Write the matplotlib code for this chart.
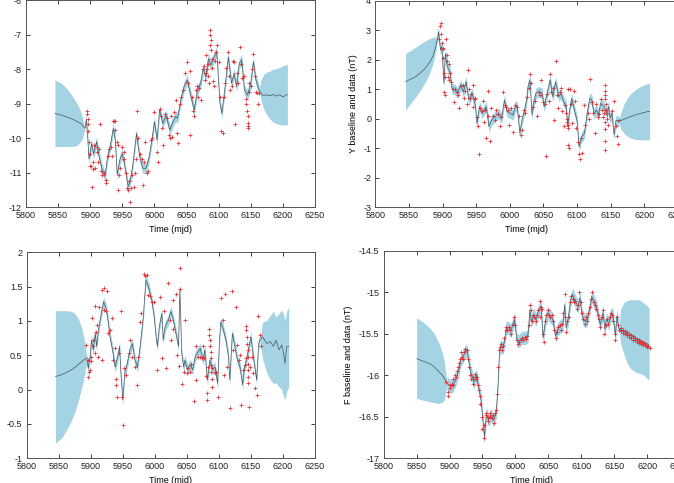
import matplotlib
matplotlib.use("Agg")
import matplotlib.pyplot as plt
from matplotlib.ticker import MultipleLocator, FormatStrFormatter

plt.rcParams['font.family'] = ['Liberation Sans', 'DejaVu Sans']
plt.rcParams['font.size'] = 6.5
plt.rcParams['axes.unicode_minus'] = False

# ---------------------------------------------------------------- X component
x_pre_t = [5845, 5855, 5863, 5870, 5876, 5881, 5885, 5888, 5891]
x_pre_m = [-9.28, -9.33, -9.38, -9.43, -9.48, -9.53, -9.57, -9.62, -9.7]
x_pre_lo = [-10.24, -10.24, -10.24, -10.24, -10.23, -10.18, -10.1, -10.0, -9.78]
x_pre_hi = [-8.31, -8.4, -8.55, -8.72, -8.89, -9.05, -9.22, -9.4, -9.68]

x_fit_t = [5892, 5894, 5896, 5898, 5902, 5905, 5910, 5913, 5918, 5923,
           5927, 5931, 5936, 5939, 5942, 5946, 5950, 5954, 5959, 5962,
           5966, 5972, 5977, 5982, 5987, 5992, 5996, 6000, 6004, 6008,
           6013, 6018, 6024, 6029, 6033, 6036, 6041, 6046, 6051, 6057,
           6062, 6067, 6072, 6076, 6080, 6084, 6088, 6093, 6097, 6102,
           6105, 6110, 6115, 6120, 6124, 6128, 6132, 6136, 6140, 6145,
           6150, 6154, 6158, 6163]
x_fit_m = [-9.7, -9.45, -9.95, -10.6, -10.15, -10.45, -10.1, -10.45, -10.87, -11.11,
           -10.53, -10.24, -9.71, -10.05, -11.06, -10.63, -10.44, -10.82, -11.4, -11.26,
           -10.82, -9.86, -10.53, -10.87, -10.87, -10.53, -10.05, -9.52, -10.05, -9.18,
           -9.57, -9.33, -9.76, -9.52, -9.37, -9.42, -8.89, -8.51, -8.31, -8.8,
           -9.18, -8.6, -8.41, -7.97, -8.22, -7.69, -7.88, -7.64, -7.49, -8.99,
           -9.28, -8.51, -7.64, -8.41, -8.12, -8.51, -7.83, -7.73, -8.6, -8.75,
           -8.41, -7.78, -8.31, -8.6]
x_sig = 0.15

x_post_t = [6163, 6166, 6170, 6175, 6180, 6185, 6190, 6195, 6200, 6204, 6207]
x_post_m = [-8.6, -8.72, -8.76, -8.74, -8.77, -8.73, -8.78, -8.74, -8.8, -8.76, -8.73]
x_post_lo = [-8.6, -8.9, -9.15, -9.32, -9.45, -9.53, -9.58, -9.6, -9.62, -9.6, -9.62]
x_post_hi = [-8.6, -8.3, -8.15, -8.08, -8.05, -8.0, -7.98, -7.95, -7.9, -7.88, -7.85]

x_obs_t = [5895, 5895, 5896, 5897, 5896, 5898, 5899, 5900, 5901, 5903,
           5904, 5905, 5906, 5908, 5910, 5911, 5912, 5914, 5915, 5917,
           5919, 5921, 5924, 5925, 5928, 5930, 5932, 5934, 5935, 5937,
           5938, 5939, 5941, 5943, 5944, 5945, 5947, 5950, 5952, 5953,
           5955, 5957, 5959, 5960, 5962, 5963, 5965, 5968, 5969, 5971,
           5973, 5975, 5977, 5980, 5982, 5984, 5986, 5988, 5990, 5994,
           5996, 6000, 6004, 6006, 6008, 6010, 6012, 6014, 6016, 6019,
           6022, 6024, 6026, 6028, 6030, 6033, 6035, 6036, 6040, 6042,
           6045, 6048, 6050, 6052, 6055, 6056, 6058, 6060, 6062, 6064,
           6066, 6068, 6070, 6073, 6075, 6077, 6078, 6080, 6081, 6082,
           6083, 6084, 6085, 6086, 6086, 6087, 6088, 6088, 6089, 6090,
           6091, 6092, 6094, 6096, 6098, 6100, 6102, 6104, 6106, 6108,
           6110, 6112, 6114, 6116, 6118, 6120, 6122, 6124, 6126, 6128,
           6130, 6133, 6135, 6137, 6140, 6142, 6143, 6144, 6145, 6145,
           6146, 6146, 6147, 6148, 6150, 6152, 6154, 6156, 6158, 6160,
           6162, 6163]
x_obs_v = [-9.2, -9.3, -9.45, -9.6, -9.8, -10.1, -10.8, -10.45, -10.8, -11.4,
           -10.9, -10.7, -10.2, -10.85, -10.25, -10.4, -10.7, -10.3, -9.6, -10.95,
           -11.05, -11.0, -11.2, -11.3, -10.5, -10.3, -10.25, -10.5, -9.5, -9.5,
           -9.75, -9.5, -10.1, -10.2, -11.5, -11.05, -10.85, -10.25, -10.6, -10.4,
           -11.0, -11.45, -11.5, -11.25, -11.85, -11.45, -11.05, -11.4, -11.0, -10.6,
           -9.2, -10.0, -10.45, -10.6, -11.35, -10.7, -10.1, -11.0, -10.95, -10.05,
           -10.0, -9.25, -10.4, -10.7, -9.15, -9.35, -9.7, -10.2, -9.3, -9.4,
           -9.9, -10.0, -9.35, -9.95, -9.25, -8.9, -9.85, -10.15, -9.0, -8.8,
           -8.6, -8.1, -7.8, -8.4, -8.05, -9.9, -8.8, -9.2, -9.35, -8.6,
           -8.5, -8.8, -8.55, -8.9, -8.0, -7.9, -8.3, -8.1, -7.6, -8.0,
           -8.2, -7.85, -8.4, -7.3, -7.0, -6.85, -7.15, -7.45, -7.7, -7.95,
           -8.35, -8.5, -7.75, -7.5, -7.3, -7.8, -8.8, -9.8, -9.85, -8.8,
           -8.4, -7.95, -7.5, -8.2, -8.6, -8.5, -7.75, -7.8, -9.6, -8.1,
           -8.4, -7.35, -7.85, -8.25, -8.2, -8.85, -9.0, -9.2, -9.35, -9.55,
           -9.65, -9.7, -8.4, -8.65, -8.5, -8.0, -7.55, -8.2, -8.65, -8.7,
           -9.0, -8.7]

# ---------------------------------------------------------------- Y component
y_pre_t = [5845, 5852, 5860, 5867, 5874, 5880, 5885, 5889, 5892]
y_pre_m = [1.25, 1.33, 1.42, 1.55, 1.7, 1.88, 2.08, 2.35, 2.66]
y_pre_lo = [0.29, 0.5, 0.73, 0.97, 1.22, 1.5, 1.8, 2.15, 2.6]
y_pre_hi = [2.21, 2.3, 2.42, 2.53, 2.63, 2.7, 2.75, 2.77, 2.7]

y_fit_t = [5892, 5894, 5897, 5899, 5902, 5904, 5907, 5911, 5914, 5919,
           5922, 5927, 5931, 5935, 5939, 5944, 5949, 5951, 5955, 5959,
           5965, 5969, 5973, 5978, 5983, 5988, 5992, 5996, 6001, 6005,
           6008, 6011, 6015, 6018, 6022, 6025, 6027, 6030, 6033, 6035,
           6039, 6043, 6048, 6051, 6055, 6060, 6064, 6068, 6073, 6076,
           6080, 6084, 6086, 6089, 6092, 6096, 6100, 6103, 6107, 6111,
           6115, 6119, 6122, 6125, 6129, 6132, 6135, 6140, 6144, 6147,
           6149, 6152, 6155, 6158, 6162]
y_fit_m = [2.66, 2.94, 2.32, 2.44, 1.2, 2.21, 1.76, 1.59, 1.03, 0.97,
           0.86, 1.14, 0.91, 1.25, 0.63, 0.86, 0.41, -0.16, 0.41, 0.18,
           0.41, -0.27, -0.05, 0.07, 0.18, 0.01, 0.63, 0.24, 0.18, 0.12,
           0.41, 0.41, -0.5, -0.05, 0.29, 0.63, 1.08, 1.31, 0.12, 0.52,
           0.86, 0.91, 0.86, 0.41, 0.8, 1.31, 0.74, 1.25, 0.74, 0.86,
           0.58, 0.41, -0.27, 0.29, 0.69, 0.29, -0.05, -0.95, -0.61, -0.5,
           0.18, 0.69, 0.63, 0.18, 0.29, 0.12, 0.52, 0.41, 0.18, 0.41,
           0.01, 0.18, -0.55, -0.05, -0.1]
y_sig = 0.18

y_post_t = [6162, 6165, 6170, 6175, 6180, 6185, 6190, 6195, 6200, 6205, 6208]
y_post_m = [-0.1, -0.06, -0.02, 0.03, 0.07, 0.11, 0.15, 0.18, 0.21, 0.24, 0.25]
y_post_lo = [-0.1, -0.35, -0.5, -0.6, -0.66, -0.69, -0.71, -0.72, -0.72, -0.72, -0.72]
y_post_hi = [-0.1, 0.2, 0.5, 0.7, 0.85, 0.95, 1.03, 1.1, 1.15, 1.18, 1.2]

y_obs_t = [5895, 5896, 5897, 5898, 5899, 5900, 5901, 5901, 5902, 5902,
           5903, 5904, 5905, 5906, 5907, 5908, 5909, 5910, 5911, 5913,
           5916, 5917, 5919, 5921, 5923, 5925, 5928, 5930, 5932, 5934,
           5936, 5938, 5940, 5941, 5943, 5945, 5946, 5948, 5949, 5951,
           5953, 5954, 5956, 5958, 5960, 5962, 5963, 5965, 5967, 5968,
           5970, 5972, 5975, 5978, 5980, 5983, 5985, 5987, 5990, 5993,
           5995, 5997, 5999, 6002, 6005, 6008, 6010, 6013, 6016, 6018,
           6021, 6023, 6026, 6028, 6030, 6032, 6035, 6037, 6040, 6043,
           6045, 6047, 6049, 6052, 6054, 6055, 6058, 6060, 6062, 6064,
           6066, 6068, 6070, 6072, 6074, 6076, 6078, 6080, 6082, 6084,
           6085, 6085, 6086, 6086, 6087, 6087, 6088, 6089, 6091, 6093,
           6095, 6097, 6099, 6102, 6103, 6104, 6106, 6108, 6110, 6112,
           6116, 6118, 6120, 6122, 6124, 6126, 6128, 6131, 6133, 6135,
           6137, 6139, 6140, 6141, 6141, 6142, 6142, 6142, 6142, 6142,
           6142, 6143, 6143, 6144, 6145, 6146, 6152, 6155, 6158, 6160,
           6161, 6163]
y_obs_v = [2.7, 3.15, 3.25, 2.85, 2.55, 2.35, 2.4, 2.05, 1.55, 0.9,
           0.8, 1.4, 2.7, 2.15, 1.95, 1.4, 1.85, 1.3, 1.55, 1.25,
           1.0, 0.55, 1.0, 0.9, 0.8, 0.35, 1.1, 1.15, 0.7, 0.95,
           0.5, 1.65, 1.0, 0.7, 0.85, 0.4, 1.15, 0.7, 0.65, 0.05,
           -0.25, -1.2, 0.35, 0.25, 0.6, -0.1, 0.3, -0.65, 0.95, 0.1,
           -0.75, 0.35, 0.1, -0.05, 0.3, 0.15, -0.25, 0.05, 0.9, 0.45,
           0.4, 0.3, -0.2, 0.35, -0.45, 0.45, 0.4, 0.1, -0.55, -0.4,
           0.3, 0.2, 0.75, 1.05, 1.5, 1.2, 0.4, 0.6, 0.1, 0.9,
           0.8, 1.3, 0.55, 0.5, -1.25, 0.85, 0.6, 1.5, 0.9, 1.05,
           -0.05, 1.95, 0.8, 0.35, 0.9, 1.05, 0.25, -0.25, 0.45, 0.2,
           0.0, -0.1, -0.3, 1.0, -0.2, -0.9, -1.0, 1.0, 0.5, -0.15,
           0.95, 0.6, -0.3, -0.8, -1.2, -1.35, -0.65, -1.15, 0.45, -0.2,
           0.2, 0.0, 1.35, 0.55, 0.2, -0.5, 0.5, 0.05, 0.15, 0.65,
           0.3, 0.05, 0.2, -0.1, -0.35, -0.75, -1.05, 1.15, 0.95, 0.8,
           0.65, 0.5, 0.3, 0.15, 0.0, -0.2, 0.25, 0.6, -0.25, -0.6,
           -0.85, -0.05]

# ---------------------------------------------------------------- Z component
z_pre_t = [5845, 5855, 5862, 5870, 5876, 5881, 5886, 5890, 5894]
z_pre_m = [0.19, 0.22, 0.25, 0.29, 0.33, 0.37, 0.41, 0.44, 0.46]
z_pre_lo = [-0.78, -0.7, -0.59, -0.45, -0.3, -0.15, 0.04, 0.2, 0.42]
z_pre_hi = [1.15, 1.15, 1.15, 1.14, 1.1, 1.02, 0.9, 0.72, 0.46]

z_fit_t = [5894, 5896, 5899, 5901, 5904, 5907, 5909, 5912, 5916, 5920,
           5924, 5927, 5930, 5934, 5938, 5942, 5945, 5947, 5950, 5953,
           5957, 5961, 5965, 5969, 5973, 5977, 5982, 5986, 5990, 5995,
           5999, 6002, 6004, 6007, 6011, 6013, 6016, 6021, 6025, 6029,
           6033, 6037, 6039, 6042, 6045, 6047, 6051, 6055, 6059, 6063,
           6066, 6071, 6075, 6078, 6082, 6086, 6090, 6094, 6098, 6101,
           6103, 6107, 6111, 6115, 6117, 6121, 6125, 6129, 6133, 6137,
           6140, 6143, 6147, 6150, 6153, 6156, 6159, 6162, 6164]
z_fit_m = [0.46, 0.31, 0.48, 0.72, 0.58, 0.82, 0.63, 0.87, 1.09, 1.28,
           1.18, 1.01, 0.77, 0.58, 0.33, 0.48, 0.63, 0.24, -0.15, 0.24,
           0.38, 0.58, 0.67, 0.43, 0.33, 0.63, 1.06, 1.6, 1.5, 1.31,
           1.06, 0.77, 0.63, 0.92, 1.11, 0.72, 0.92, 1.01, 1.14, 1.01,
           0.82, 0.63, 1.45, 0.53, 0.33, 0.43, 0.29, 0.36, 0.29, 0.48,
           0.53, 0.6, 0.43, 0.58, 0.14, 0.43, 0.29, 0.33, 0.09, 0.72,
           0.99, 0.87, 0.72, 0.48, 0.14, 0.82, 0.63, 0.43, 0.33, 0.07,
           0.33, 0.43, 0.63, 0.77, 0.53, 0.33, 0.14, 0.67, 0.72]
z_sig = 0.075

z_post_t = [6164, 6168, 6175, 6180, 6185, 6189, 6194, 6198, 6201, 6203, 6206, 6209]
z_post_m = [0.72, 0.77, 0.67, 0.7, 0.63, 0.72, 0.58, 0.65, 0.53, 0.38, 0.63, 0.63]
z_post_lo = [0.72, 0.45, 0.24, 0.15, 0.09, 0.1, 0.04, 0.0, -0.1, -0.15, -0.02, 0.04]
z_post_hi = [0.72, 0.98, 1.01, 1.08, 1.14, 1.06, 1.11, 1.16, 1.1, 1.0, 1.15, 1.21]

z_obs_t = [5893, 5895, 5896, 5898, 5899, 5900, 5901, 5902, 5903, 5904,
           5906, 5907, 5908, 5910, 5912, 5913, 5917, 5918, 5920, 5921,
           5924, 5926, 5927, 5930, 5933, 5935, 5938, 5939, 5940, 5941,
           5944, 5947, 5949, 5950, 5952, 5955, 5959, 5962, 5965, 5969,
           5972, 5974, 5977, 5979, 5983, 5985, 5987, 5990, 5992, 5995,
           5998, 6003, 6008, 6011, 6014, 6017, 6021, 6024, 6026, 6028,
           6029, 6033, 6034, 6037, 6039, 6040, 6043, 6045, 6047, 6050,
           6052, 6055, 6057, 6061, 6064, 6065, 6068, 6070, 6073, 6075,
           6077, 6080, 6081, 6082, 6083, 6085, 6085, 6086, 6086, 6087,
           6087, 6088, 6088, 6089, 6089, 6090, 6094, 6096, 6099, 6103,
           6106, 6108, 6110, 6112, 6117, 6120, 6122, 6127, 6129, 6131,
           6133, 6135, 6138, 6141, 6142, 6143, 6143, 6144, 6144, 6145,
           6145, 6145, 6146, 6146, 6146, 6147, 6148, 6151, 6154, 6156,
           6159, 6161, 6164, 6165]
z_obs_v = [0.65, 0.43, 0.19, 0.26, 0.29, 0.41, 0.48, 1.05, 0.63, 0.72,
           1.22, 0.53, 0.84, 0.94, 0.48, 1.21, 0.43, 1.45, 1.48, 1.16,
           1.14, 1.43, 0.82, 0.87, 1.04, 0.43, 0.6, 0.16, 0.07, -0.1,
           0.53, 1.14, -0.1, -0.51, 0.31, 0.21, 0.53, 0.72, 0.48, 0.33,
           0.07, 0.48, 0.99, 1.11, 1.69, 1.65, 1.67, 1.38, 1.36, 1.28,
           1.27, 0.29, 1.35, 0.46, 1.14, 0.31, 1.56, 1.01, 0.72, 1.31,
           0.89, 1.4, 0.5, 0.34, 1.77, 1.46, 0.08, 0.26, 1.01, 0.24,
           0.31, 0.26, 0.38, -0.17, 0.63, 0.14, 0.48, 0.48, 0.46, 0.63,
           0.46, 0.2, -0.05, -0.15, 0.33, 0.89, 0.8, 0.72, 0.63, 0.55,
           0.46, 0.36, 0.26, 0.16, 0.04, 0.31, 0.24, 0.26, -0.1, 1.33,
           1.01, 0.21, 1.4, 0.33, -0.27, 1.43, 0.58, 1.21, 0.65, 0.43,
           0.5, -0.22, 0.29, 0.36, 0.46, 0.93, 0.87, 0.77, 0.67, 0.58,
           0.48, 0.38, 0.29, 0.19, 0.09, -0.25, 0.33, 0.48, 0.24, 0.02,
           -0.08, 1.07, 0.8, 0.63]

# ---------------------------------------------------------------- F (total field)
f_pre_t = [5850, 5860, 5870, 5877, 5883, 5888, 5892, 5894, 5896]
f_pre_m = [-15.8, -15.83, -15.86, -15.9, -15.95, -15.99, -16.03, -16.07, -16.1]
f_pre_lo = [-16.28, -16.3, -16.32, -16.33, -16.34, -16.33, -16.3, -16.22, -16.12]
f_pre_hi = [-15.31, -15.36, -15.43, -15.5, -15.6, -15.7, -15.83, -15.96, -16.08]

f_fit_t = [5896, 5904, 5909, 5914, 5917, 5921, 5926, 5928, 5932, 5937,
           5941, 5944, 5948, 5951, 5953, 5956, 5959, 5963, 5967, 5971,
           5974, 5976, 5978, 5981, 5984, 5986, 5990, 5993, 5996, 5999,
           6002, 6005, 6010, 6015, 6019, 6022, 6024, 6028, 6031, 6035,
           6039, 6042, 6046, 6049, 6053, 6057, 6061, 6064, 6068, 6072,
           6075, 6077, 6080, 6084, 6087, 6091, 6095, 6098, 6101, 6105,
           6109, 6113, 6116, 6120, 6123, 6126, 6129, 6133, 6136, 6138,
           6142, 6145, 6148, 6152, 6154, 6157]
f_fit_m = [-16.1, -16.14, -16.06, -15.94, -15.82, -15.76, -15.7, -15.76, -15.96, -16.08,
           -16.0, -16.14, -16.3, -16.58, -16.74, -16.46, -16.54, -16.48, -16.54, -16.44,
           -16.06, -15.69, -15.65, -15.67, -15.57, -15.43, -15.43, -15.47, -15.39, -15.33,
           -15.57, -15.59, -15.55, -15.55, -15.53, -15.21, -15.35, -15.27, -15.33, -15.23,
           -15.17, -15.55, -15.33, -15.25, -15.29, -15.33, -15.53, -15.45, -15.41, -15.39,
           -15.15, -15.43, -15.33, -15.09, -15.03, -15.11, -15.17, -15.07, -15.27, -15.35,
           -15.33, -15.19, -15.05, -15.13, -15.17, -15.29, -15.39, -15.25, -15.45, -15.33,
           -15.37, -15.27, -15.27, -15.53, -15.29, -15.43]
f_sig = 0.08

f_post_t = [6157, 6160, 6165, 6170, 6175, 6180, 6185, 6190, 6195, 6200, 6203]
f_post_m = [-15.43, -15.45, -15.47, -15.5, -15.52, -15.54, -15.56, -15.58, -15.6, -15.62, -15.64]
f_post_lo = [-15.43, -15.62, -15.75, -15.86, -15.92, -15.95, -15.97, -15.98, -16.0, -16.04, -16.05]
f_post_hi = [-15.43, -15.2, -15.12, -15.1, -15.09, -15.09, -15.09, -15.1, -15.13, -15.16, -15.19]

f_obs_t = [5895, 5897, 5898, 5900, 5901, 5903, 5905, 5906, 5908, 5910,
           5911, 5913, 5915, 5916, 5918, 5919, 5921, 5922, 5924, 5926,
           5928, 5930, 5931, 5933, 5935, 5936, 5938, 5940, 5941, 5943,
           5944, 5946, 5947, 5949, 5950, 5952, 5953, 5955, 5956, 5958,
           5959, 5961, 5962, 5964, 5966, 5967, 5969, 5971, 5972, 5974,
           5975, 5977, 5978, 5980, 5981, 5983, 5985, 5986, 5988,
           5990, 5992, 5994, 5996, 5998, 6000, 6002, 6004, 6006, 6008,
           6010, 6012, 6014, 6016, 6018, 6020, 6022, 6023, 6025, 6027,
           6029, 6031, 6033, 6035, 6037, 6038, 6039,
           6040, 6042, 6043, 6045, 6047, 6049, 6051, 6053, 6055, 6057,
           6059, 6061, 6063, 6065, 6067, 6069, 6071, 6073, 6075, 6076,
           6077, 6079, 6081, 6083, 6085, 6087, 6089, 6091, 6093, 6095,
           6097, 6099, 6101, 6103, 6105, 6107, 6109, 6111, 6113, 6115,
           6117, 6119, 6121, 6123, 6125, 6127, 6129, 6131, 6133, 6135,
           6137, 6139, 6141, 6143, 6145, 6147, 6149, 6151, 6152, 6154,
           6156, 6158, 6160, 6161, 6163, 6164, 6166, 6167, 6169, 6170,
           6172, 6173, 6175, 6176, 6178, 6179, 6181, 6182, 6184, 6185,
           6187, 6188, 6190, 6191, 6193, 6194, 6196, 6197, 6199, 6200,
           6202, 6204]
f_obs_v = [-16.08, -16.2, -16.25, -16.12, -16.15, -16.1, -16.12, -16.05, -16.0, -16.02,
           -15.95, -15.9, -15.85, -15.8, -15.72, -15.78, -15.8, -15.72, -15.68, -15.7,
           -15.8, -15.9, -16.0, -16.05, -16.1, -16.02, -15.98, -16.05, -16.02, -16.12,
           -16.18, -16.25, -16.35, -16.5, -16.65, -16.75, -16.6, -16.45, -16.48, -16.55,
           -16.5, -16.45, -16.5, -16.52, -16.48, -16.58, -16.45, -16.42, -16.22, -15.9,
           -15.7, -15.66, -15.62, -15.7, -15.65, -15.55, -15.45, -15.42, -15.45,
           -15.42, -15.45, -15.5, -15.38, -15.3, -15.4, -15.58, -15.62, -15.6, -15.57,
           -15.55, -15.58, -15.54, -15.56, -15.53, -15.4, -15.15, -15.22, -15.35, -15.28,
           -15.3, -15.35, -15.28, -15.22, -15.3, -15.1, -15.18,
           -15.2, -15.5, -15.6, -15.35, -15.28, -15.22, -15.27, -15.3, -15.28, -15.35,
           -15.45, -15.55, -15.48, -15.42, -15.4, -15.45, -15.38, -15.25, -15.02, -15.3,
           -15.48, -15.35, -15.3, -15.12, -15.05, -15.08, -15.12, -15.1, -15.2, -15.15,
           -15.0, -15.12, -15.25, -15.32, -15.38, -15.3, -15.35, -15.25, -15.18, -15.08,
           -15.0, -15.12, -15.15, -15.2, -15.28, -15.32, -15.42, -15.3, -15.22, -15.5,
           -15.4, -15.32, -15.38, -15.3, -15.25, -15.28, -15.35, -15.5, -15.58, -15.3,
           -15.4, -15.45, -15.43, -15.47, -15.45, -15.49, -15.47, -15.5, -15.48, -15.52,
           -15.5, -15.54, -15.52, -15.55, -15.53, -15.57, -15.55, -15.58, -15.56, -15.6,
           -15.57, -15.61, -15.59, -15.62, -15.6, -15.63, -15.61, -15.64, -15.63, -15.66,
           -15.65, -15.67]

BAND = '#a4d3e3'
LINE = '#46565c'
RED = '#e52a30'


def draw(ax, pre, fit, sig, post, obs, ylim, ystep):
    t, m, lo, hi = pre
    ax.fill_between(t, lo, hi, color=BAND, lw=0, zorder=1)
    ax.plot(t, m, color=LINE, lw=0.5, zorder=2)
    t, m = fit
    ax.fill_between(t, [v - sig for v in m], [v + sig for v in m],
                    color=BAND, lw=0, zorder=1)
    ax.plot(t, m, color=LINE, lw=0.5, zorder=2)
    t, m, lo, hi = post
    ax.fill_between(t, lo, hi, color=BAND, lw=0, zorder=1)
    ax.plot(t, m, color=LINE, lw=0.5, zorder=2)
    ax.plot(obs[0], obs[1], '+', color=RED, ms=3.4, mew=0.55, zorder=3)

    ax.set_xlim(5800, 6250)
    ax.set_ylim(*ylim)
    ax.xaxis.set_major_locator(MultipleLocator(50))
    ax.yaxis.set_major_locator(MultipleLocator(ystep))
    ax.yaxis.set_major_formatter(FormatStrFormatter('%g'))
    ax.tick_params(direction='in', length=3, width=0.6, top=True, right=True,
                   pad=3, colors='#222222')
    for s in ax.spines.values():
        s.set_linewidth(0.7)
        s.set_color('#555555')
    ax.set_xlabel('Time (mjd)', labelpad=3)


W, H = 674, 483
fig = plt.figure(figsize=(W / 100, H / 100), dpi=100)


def px_axes(left, right, top, bottom):
    return fig.add_axes([left / W, 1 - bottom / H, (right - left) / W, (bottom - top) / H])


ax_x = px_axes(26, 315, 0.2, 207.3)
ax_y = px_axes(375.3, 677.9, 0.5, 207.3)
ax_z = px_axes(26.7, 315, 252.3, 458.3)
ax_f = px_axes(383.7, 680, 250.7, 458.3)

draw(ax_x, (x_pre_t, x_pre_m, x_pre_lo, x_pre_hi), (x_fit_t, x_fit_m), x_sig,
     (x_post_t, x_post_m, x_post_lo, x_post_hi), (x_obs_t, x_obs_v), (-12, -6), 1)
draw(ax_y, (y_pre_t, y_pre_m, y_pre_lo, y_pre_hi), (y_fit_t, y_fit_m), y_sig,
     (y_post_t, y_post_m, y_post_lo, y_post_hi), (y_obs_t, y_obs_v), (-3, 4), 1)
draw(ax_z, (z_pre_t, z_pre_m, z_pre_lo, z_pre_hi), (z_fit_t, z_fit_m), z_sig,
     (z_post_t, z_post_m, z_post_lo, z_post_hi), (z_obs_t, z_obs_v), (-1, 2), 0.5)
draw(ax_f, (f_pre_t, f_pre_m, f_pre_lo, f_pre_hi), (f_fit_t, f_fit_m), f_sig,
     (f_post_t, f_post_m, f_post_lo, f_post_hi), (f_obs_t, f_obs_v), (-17, -14.5), 0.5)

ax_y.set_ylabel('Y baseline and data (nT)', labelpad=4)
ax_f.set_ylabel('F baseline and data (nT)', labelpad=4)

fig.savefig('out.png', dpi=100)
